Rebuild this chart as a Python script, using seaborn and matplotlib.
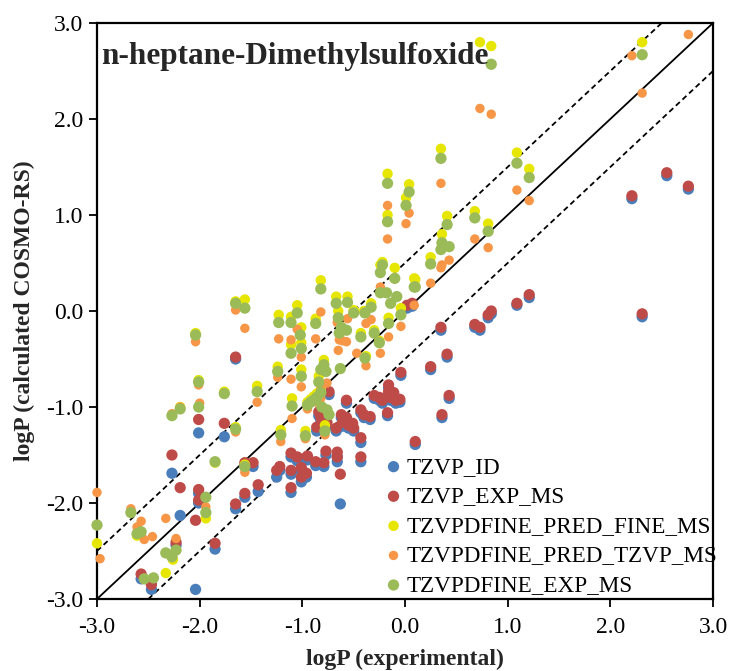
import matplotlib
matplotlib.use("Agg")
import matplotlib.pyplot as plt
import seaborn as sns
import pandas as pd

# ---------------- data ----------------
series_names = ["TZVP_ID", "TZVP_EXP_MS", "TZVPDFINE_PRED_FINE_MS",
                "TZVPDFINE_PRED_TZVP_MS", "TZVPDFINE_EXP_MS"]

# TZVP_EXP_MS (red)
red_x = [2.21, 2.55, 2.76, 2.31, 1.21, 1.09, 0.84, 0.81, 0.73, 0.68, 0.35, 0.41, 0.25, 0.43,
         0.36, 0.10, 0.02, 0.07, -0.04, -0.05, -0.30, -0.25, -0.22, -0.16, -0.14, -0.09, -0.11,
         -0.16, -0.17, -0.43, -0.40, -0.34, -0.57, -0.67, -0.62, -0.57, -0.55, -0.50, -0.82,
         -0.77, -0.81, -0.74, -0.43, -0.43, -0.66, -0.66, -0.63, -0.77, -0.87, -0.79, -0.95,
         -1.01, -0.96, -1.01, -1.11, -1.05, -1.11, -1.11, -1.22, -1.25, -1.43, -1.48, -1.56,
         -1.56, -1.65, -1.85, -2.04, -2.01, -2.01, -2.19, -2.27, -2.23, -2.57, -2.47, -2.01,
         -1.76, -1.65, -0.84, -0.86, -0.76, -0.51, -0.61]
red_y = [1.20, 1.44, 1.30, -0.03, 0.17, 0.08, 0.00, -0.04, -0.17, -0.14, -0.17, -0.45, -0.58, -0.88,
         -1.08, -1.36, 0.06, 0.08, -0.64, -0.92, -0.88, -0.90, -0.93, -0.84, -0.90, -0.93, -0.85,
         -0.77, -1.06, -1.03, -1.08, -1.10, -0.93, -1.22, -1.08, -1.11, -1.19, -1.22, -1.11,
         -1.06, -1.21, -0.84, -1.32, -1.52, -1.47, -1.52, -1.70, -1.46, -1.57, -1.58, -1.51,
         -1.63, -1.69, -1.73, -1.48, -1.52, -1.66, -1.84, -1.62, -1.66, -1.81, -1.58, -1.58,
         -1.90, -2.01, -2.42, -2.18, -1.86, -1.97, -1.84, -1.50, -2.41, -2.74, -2.85, -1.13,
         -1.17, -0.48, -1.05, -1.21, -1.16, -1.17, -1.16]

# TZVP_ID (blue)
blue_x = [2.21, 2.55, 2.76, 2.31, 1.21, 1.09, 0.84, 0.81, 0.73, 0.68, 0.35, 0.41, 0.25, 0.43,
          0.36, 0.10, 0.02, 0.07, -0.04, -0.05, -0.30, -0.25, -0.22, -0.16, -0.14, -0.09, -0.11,
          -0.16, -0.17, -0.43, -0.40, -0.34, -0.57, -0.67, -0.62, -0.57, -0.55, -0.50, -0.82,
          -0.77, -0.81, -0.74, -0.43, -0.43, -0.66, -0.66, -0.63, -0.77, -0.87, -0.79, -0.95,
          -1.01, -0.96, -1.01, -1.11, -1.05, -1.11, -1.11, -1.22, -1.25, -1.43, -1.48, -1.56,
          -1.56, -1.65, -1.85, -2.04, -2.01, -2.01, -2.19, -2.27, -2.23, -2.57, -2.47, -2.01,
          -1.76, -1.65, -0.84, -0.86, -0.76, -0.51, -0.61]
blue_y = [1.17, 1.41, 1.27, -0.06, 0.14, 0.06, -0.03, -0.07, -0.20, -0.17, -0.20, -0.48, -0.61, -0.91,
          -1.11, -1.39, 0.03, 0.05, -0.67, -0.95, -0.91, -0.93, -0.96, -0.87, -0.93, -0.96, -0.88,
          -0.80, -1.09, -1.06, -1.11, -1.13, -0.96, -1.25, -1.11, -1.14, -1.22, -1.25, -1.14,
          -1.09, -1.24, -0.87, -1.37, -1.57, -1.52, -1.57, -2.01, -1.50, -1.61, -1.62, -1.55,
          -1.67, -1.73, -1.78, -1.52, -1.56, -1.70, -1.89, -1.66, -1.73, -1.88, -1.62, -1.62,
          -1.94, -2.06, -2.48, -2.90, -1.90, -2.00, -2.13, -1.69, -2.44, -2.79, -2.90, -1.27,
          -1.31, -0.50, -1.09, -1.25, -1.20, -1.21, -1.20]

# TZVPDFINE_PRED_FINE_MS (yellow)
yellow_x = [2.31, 0.73, 0.84, 0.35, 1.09, 1.21, 0.04, 0.01, -0.17, -0.17, 0.41, 0.68, 0.81, 0.36,
            0.25, 0.10, -0.22, -0.24, -0.10, 0.09, -0.82, -0.67, -0.56, -1.65, -1.56, -1.05,
            -1.23, -1.11, -0.87, -0.65, -0.50, -0.40, -0.33, -2.04, -2.01, -1.76, -1.01, -1.11,
            -1.01, -0.43, -0.30, -0.25, -0.38, -0.16, -0.04, -1.24, -1.01, -0.79, -0.84, -1.44,
            -1.10, -0.95, -0.92, -0.89, -0.86, -0.82, -0.78, -1.21, -0.97, -1.65, -1.85, -1.56,
            -1.94, -3.00, -2.33, -2.26, -2.61, -2.19]
yellow_y = [2.80, 2.80, 2.76, 1.69, 1.65, 1.48, 1.32, 1.18, 1.43, 1.00, 0.99, 1.04, 0.91, 0.80,
            0.56, 0.33, 0.51, 0.48, 0.45, 0.34, 0.32, 0.15, 0.15, 0.10, 0.12, 0.06,
            -0.04, -0.06, -0.08, 0.00, 0.01, 0.00, 0.08, -0.23, -0.72, -0.84, -0.17, -0.35,
            -0.33, -0.23, -0.20, -0.31, -0.47, -0.07, 0.03, -0.58, -0.61, -0.51, -0.68, -0.78,
            -0.91, -0.95, -0.92, -0.89, -0.86, -0.82, -1.19, -1.24, -1.25, -1.21, -1.58, -1.60,
            -2.16, -2.42, -2.73, -2.59, -2.34, -1.00]

# TZVPDFINE_PRED_TZVP_MS (orange)
orange_x = [2.76, 2.21, 2.31, 0.73, 0.84, 0.35, 1.09, 1.21, 0.04, 0.01, -0.17, -0.17, 0.68, 0.81,
            0.36, 0.43, 0.35, 0.25, 0.09, -0.24, -1.56, -1.65, -2.04, -2.01, -2.27, -2.19,
            -2.00, -1.65, -1.56, -1.44, -1.23, -1.11, -0.82, -0.87, -1.05, -1.01, -0.65, -0.64,
            -0.57, -0.61, -0.47, -0.38, -0.24, -0.33, -0.38, -0.16, -0.04, -0.66, -0.56, -1.24,
            -1.11, -1.01, -0.76, -0.82, -1.10, -0.95, -0.82, -0.86, -0.78, -1.21, -0.97, -3.00,
            -2.97, -2.67, -2.57, -2.61, -2.54, -2.46, -2.33, -2.23, -1.94]
orange_y = [2.88, 2.66, 2.27, 2.11, 2.05, 1.33, 1.26, 1.15, 1.02, 0.91, 1.10, 0.75, 0.75, 0.66,
            0.48, 0.53, 0.45, 0.29, 0.06, 0.25, -0.18, 0.01, -0.32, -0.77, -1.07, -1.00,
            -0.96, -1.26, -1.68, -0.95, -0.29, -0.30, -0.01, -0.29, -0.19, -0.48, -0.41, -0.30,
            -0.32, -0.31, -0.44, -0.57, -0.44, -0.09, -0.13, -0.27, -0.16, -0.12, -0.08, -0.69,
            -0.71, -0.79, -0.75, -0.82, -1.12, -1.02, -0.91, -0.95, -1.29, -1.36, -1.33, -1.89,
            -2.58, -2.06, -2.19, -2.25, -2.38, -2.35, -2.16, -2.37, -2.04]

# TZVPDFINE_EXP_MS (green)
green_x = [2.31, 0.84, 0.35, 1.09, 1.21, 0.04, 0.01, -0.17, -0.17, 0.41, 0.68, 0.81, 0.36, 0.43,
           0.35, 0.25, 0.10, -0.22, -0.24, -0.10, 0.09, -0.24, -0.82, -0.67, -0.56, -1.65,
           -1.56, -1.05, -1.23, -1.11, -0.87, -0.65, -0.50, -0.39, -0.33, -0.16, -0.04, -0.18,
           -0.08, -0.14, -2.04, -2.01, -1.76, -2.27, -2.19, -2.01, -1.65, -1.85, -1.56, -1.44,
           -1.02, -1.01, -1.11, -0.64, -0.57, -0.62, -0.43, -0.30, -0.25, -0.39, -1.24, -1.01,
           -0.79, -0.77, -0.84, -0.82, -0.63, -1.10, -0.95, -0.92, -0.89, -0.86, -0.82, -0.81,
           -0.76, -0.74, -0.78, -1.21, -0.97, -3.00, -2.67, -2.61, -2.57, -2.33, -2.23, -2.27,
           -2.54, -2.45, -1.94, -1.94]
green_y = [2.67, 2.57, 1.59, 1.54, 1.39, 1.24, 1.10, 1.33, 0.93, 0.90, 0.97, 0.83, 0.71, 0.67,
           0.64, 0.49, 0.25, 0.48, 0.40, 0.34, 0.25, 0.19, 0.23, 0.08, 0.09, 0.08,
           0.03, -0.02, -0.12, -0.12, -0.13, -0.07, -0.02, -0.02, 0.04, -0.13, -0.04, 0.19,
           0.15, 0.08, -0.25, -0.74, -0.86, -1.09, -1.02, -1.00, -1.23, -1.57, -1.62, -0.84,
           -0.25, -0.39, -0.44, -0.23, -0.20, -0.17, -0.27, -0.23, -0.33, -0.49, -0.63, -0.68,
           -0.56, -0.63, -0.74, -0.61, -0.60, -0.99, -0.98, -0.95, -0.93, -0.90, -0.85, -1.00,
           -1.03, -1.08, -1.25, -1.29, -1.30, -2.23, -2.10, -2.32, -2.30, -2.52, -2.49, -2.56,
           -2.79, -2.78, -1.94, -2.10]

axis_ticks = [-3.0, -2.0, -1.0, 0.0, 1.0, 2.0, 3.0]
tick_labels = ["-3.0", "-2.0", "-1.0", "0.0", "1.0", "2.0", "3.0"]

# ---------------- style ----------------
sns.set_theme(style="white")
plt.rcParams["font.family"] = ["Liberation Serif", "DejaVu Serif"]

colors = {"TZVP_ID": "#4a7ebb", "TZVP_EXP_MS": "#be4b48",
          "TZVPDFINE_PRED_FINE_MS": "#e6e600", "TZVPDFINE_PRED_TZVP_MS": "#f79646",
          "TZVPDFINE_EXP_MS": "#9bbb59"}
sizes = {"TZVP_ID": 66, "TZVP_EXP_MS": 66, "TZVPDFINE_PRED_FINE_MS": 56,
         "TZVPDFINE_PRED_TZVP_MS": 46, "TZVPDFINE_EXP_MS": 66}

data = {
    "TZVP_ID": (blue_x, blue_y),
    "TZVP_EXP_MS": (red_x, red_y),
    "TZVPDFINE_PRED_FINE_MS": (yellow_x, yellow_y),
    "TZVPDFINE_PRED_TZVP_MS": (orange_x, orange_y),
    "TZVPDFINE_EXP_MS": (green_x, green_y),
}

fig = plt.figure(figsize=(7.37, 6.71), dpi=100)
ax = fig.add_axes([97 / 737, 1 - 599 / 671, 616 / 737, 576 / 671])

# reference lines
ax.plot([-3, 3], [-3, 3], color="black", lw=1.3, zorder=1)
ax.plot([-3, 2.5], [-2.5, 3], color="black", lw=1.3, ls=(0, (3, 2)), zorder=1)
ax.plot([-2.5, 3], [-3, 2.5], color="black", lw=1.3, ls=(0, (3, 2)), zorder=1)

for i, name in enumerate(series_names):
    xs, ys = data[name]
    df = pd.DataFrame({"x": xs, "y": ys})
    sns.scatterplot(data=df, x="x", y="y", ax=ax, color=colors[name], s=sizes[name],
                    edgecolor="none", linewidth=0, label=name, zorder=2 + i, clip_on=False)

ax.set_xlim(-3, 3)
ax.set_ylim(-3, 3)
ax.set_xticks(axis_ticks)
ax.set_xticklabels(tick_labels)
ax.set_yticks(axis_ticks)
ax.set_yticklabels(tick_labels)
ax.tick_params(axis="both", which="both", direction="out", length=6, width=1.3,
               color="black", labelsize=17, labelcolor="black", bottom=True, left=True,
               top=False, right=False, pad=4)
ax.tick_params(axis="x", pad=7)
for sp in ax.spines.values():
    sp.set_visible(True)
    sp.set_color("black")
    sp.set_linewidth(1.6)

ax.set_xlabel("logP (experimental)", fontsize=17, fontweight="bold", labelpad=8)
ax.set_ylabel("logP (calculated COSMO-RS)", fontsize=17, fontweight="bold", labelpad=8)

ax.text(0.006, 0.942, "n-heptane-Dimethylsulfoxide", transform=ax.transAxes,
        fontsize=22.5, fontweight="bold", ha="left", va="center", zorder=20)

leg = ax.legend(loc="lower left", bbox_to_anchor=(0.455, -0.003), frameon=False,
                fontsize=16.7, handletextpad=0.05, labelspacing=0.36, borderaxespad=0,
                markerscale=1.0, handlelength=1.0, borderpad=0.2)
for t in leg.get_texts():
    t.set_color("black")

fig.savefig("out.png", dpi=100)
